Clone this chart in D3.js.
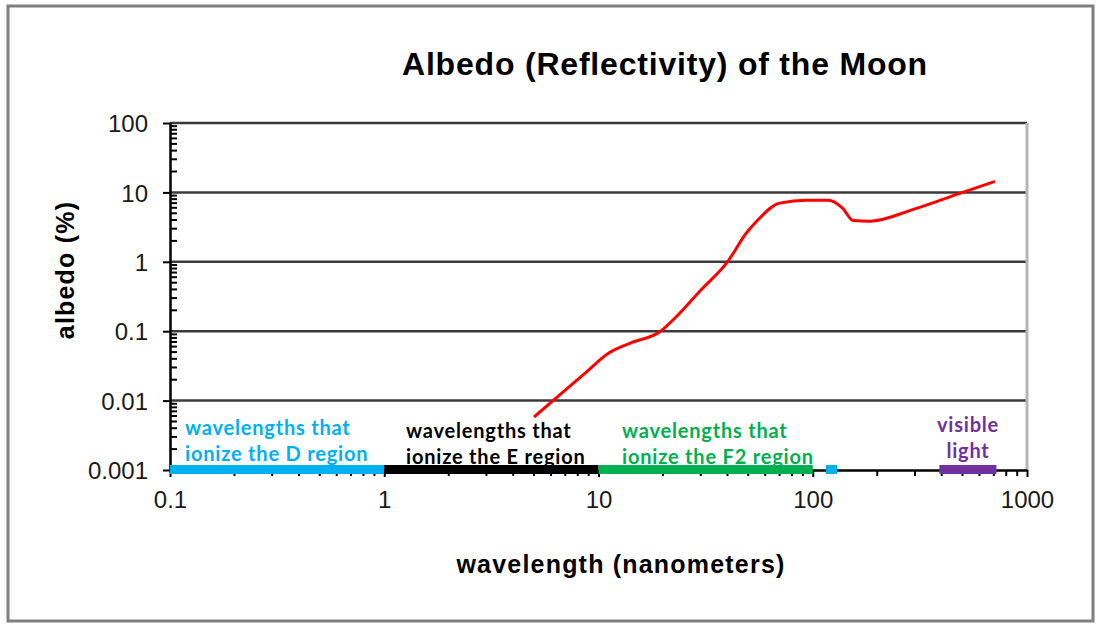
<!DOCTYPE html>
<html>
<head>
<meta charset="utf-8">
<script src="https://cdn.jsdelivr.net/npm/d3@7"></script>
<style>
  body { margin: 0; background: #fff; }
  text { font-family: "Liberation Sans", Arial, sans-serif; }
  .band-label { font-family: Lato, "Open Sans", sans-serif; font-weight: bold; }
</style>
</head>
<body>
<div id="chart"></div>
<script>
// data
var wavelength = [5, 6, 8.8, 11, 14, 19.5, 23, 30, 40, 49, 55, 70, 94, 118, 138, 154, 185, 300, 486, 709];
var albedo = [0.0058, 0.0094, 0.026, 0.047, 0.067, 0.1, 0.16, 0.39, 1, 2.6, 3.9, 7, 7.7, 7.7, 5.9, 3.95, 3.85, 5.8, 9.7, 14.4];

var xTicks = [0.1, 1, 10, 100, 1000];
var yTicks = [0.001, 0.01, 0.1, 1, 10, 100];

var bandStart = [0.1, 1, 10, 115, 390];
var bandEnd = [1, 10, 100, 130, 720];
var bandColors = ["#00b0f0", "#000000", "#00b050", "#00b0f0", "#7030a0"];
var bandLine1 = ["wavelengths that", "wavelengths that", "wavelengths that", "", "visible"];
var bandLine2 = ["ionize the D region", "ionize the E region", "ionize the F2 region", "", "light"];

var W = 1096, H = 624;
var margin = {top: 123, right: 1027, bottom: 470, left: 170};

var svg = d3.select("#chart").append("svg")
    .attr("width", W)
    .attr("height", H);

// outer frame
svg.append("rect")
    .attr("x", 8).attr("y", 6)
    .attr("width", 1085).attr("height", 615)
    .attr("fill", "#fff")
    .attr("stroke", "#7f7f7f")
    .attr("stroke-width", 3);

var x = d3.scaleLog().domain([0.1, 1000]).range([margin.left, margin.right]);
var y = d3.scaleLog().domain([0.001, 100]).range([margin.bottom, margin.top]);

// minor tick values, 2..9 in every decade
function minors(lo, hi) {
    var out = [];
    for (var d = lo; d < hi * 0.99; d *= 10) {
        for (var k = 2; k <= 9; k++) out.push(d * k);
    }
    return out;
}

// gridlines
svg.append("g").selectAll("line")
    .data(yTicks.slice(1))
    .enter().append("line")
    .attr("x1", margin.left).attr("x2", margin.right)
    .attr("y1", function (d) { return y(d); })
    .attr("y2", function (d) { return y(d); })
    .attr("stroke", "#3a3a3a")
    .attr("stroke-width", 2.5);

// right border of plot
svg.append("line")
    .attr("x1", margin.right).attr("x2", margin.right)
    .attr("y1", margin.top).attr("y2", margin.bottom)
    .attr("stroke", "#b5b5b5")
    .attr("stroke-width", 3);

// y axis
var yAxis = d3.axisLeft(y)
    .tickValues(yTicks)
    .tickSize(7)
    .tickSizeOuter(0)
    .tickFormat(function (d) { return d3.format("~g")(d); });

var gy = svg.append("g")
    .attr("transform", "translate(" + margin.left + ",0)")
    .call(yAxis);
gy.select(".domain").attr("stroke", "#000").attr("stroke-width", 2.5);
gy.selectAll(".tick line").attr("stroke", "#000").attr("stroke-width", 2);
gy.selectAll(".tick text")
    .attr("x", -22)
    .attr("dy", "0.36em")
    .style("font-size", "24px")
    .attr("fill", "#1a1a1a");

svg.append("g").selectAll("line")
    .data(minors(0.001, 100))
    .enter().append("line")
    .attr("x1", margin.left).attr("x2", margin.left + 7)
    .attr("y1", function (d) { return y(d); })
    .attr("y2", function (d) { return y(d); })
    .attr("stroke", "#000")
    .attr("stroke-width", 2);

// x axis
var xAxis = d3.axisBottom(x)
    .tickValues(xTicks)
    .tickSize(7)
    .tickSizeOuter(0)
    .tickFormat(function (d) { return d3.format("~g")(d); });

var gx = svg.append("g")
    .attr("transform", "translate(0," + margin.bottom + ")")
    .call(xAxis);
gx.select(".domain").attr("stroke", "#000").attr("stroke-width", 2.5);
gx.selectAll(".tick line").attr("stroke", "#000").attr("stroke-width", 2);
gx.selectAll(".tick text")
    .attr("y", 21)
    .style("font-size", "24px")
    .attr("fill", "#1a1a1a");

svg.append("g").selectAll("line")
    .data(minors(0.1, 1000))
    .enter().append("line")
    .attr("x1", function (d) { return x(d); })
    .attr("x2", function (d) { return x(d); })
    .attr("y1", margin.bottom).attr("y2", margin.bottom + 6)
    .attr("stroke", "#000")
    .attr("stroke-width", 2);

// coloured wavelength bands on the x axis
svg.append("g").selectAll("rect")
    .data(bandStart)
    .enter().append("rect")
    .attr("x", function (d) { return x(d); })
    .attr("width", function (d, i) { return x(bandEnd[i]) - x(d); })
    .attr("y", margin.bottom - 5)
    .attr("height", 9)
    .attr("fill", function (d, i) { return bandColors[i]; });

// band labels
var labelX = [185, 406, 622, 0, 968];
var labelY1 = [435, 438, 438, 0, 432];

bandLine1.forEach(function (t, i) {
    if (t === "") return;
    var anchor = i === 4 ? "middle" : "start";
    var g = svg.append("g").attr("class", "band");
    g.append("text")
        .attr("class", "band-label")
        .attr("x", labelX[i])
        .attr("y", labelY1[i])
        .attr("text-anchor", anchor)
        .style("font-size", "20px")
        .style("letter-spacing", "0.8px")
        .attr("fill", bandColors[i])
        .text(t);
    g.append("text")
        .attr("class", "band-label")
        .attr("x", labelX[i])
        .attr("y", labelY1[i] + 26)
        .attr("text-anchor", anchor)
        .style("font-size", "20px")
        .style("letter-spacing", "0.8px")
        .attr("fill", bandColors[i])
        .text(bandLine2[i]);
});

// albedo curve
var line = d3.line()
    .x(function (d) { return x(d[0]); })
    .y(function (d) { return y(d[1]); })
    .curve(d3.curveMonotoneX);

svg.append("path")
    .datum(d3.zip(wavelength, albedo))
    .attr("d", line)
    .attr("fill", "none")
    .attr("stroke", "#ff0000")
    .attr("stroke-width", 3);

// titles
svg.append("text")
    .attr("x", 665).attr("y", 75)
    .attr("text-anchor", "middle")
    .style("font-size", "32px")
    .style("font-weight", "bold")
    .style("letter-spacing", "0.8px")
    .text("Albedo (Reflectivity) of the Moon");

svg.append("text")
    .attr("x", 621).attr("y", 573)
    .attr("text-anchor", "middle")
    .style("font-size", "25px")
    .style("font-weight", "bold")
    .style("letter-spacing", "1.2px")
    .text("wavelength (nanometers)");

svg.append("text")
    .attr("transform", "translate(74,270) rotate(-90)")
    .attr("text-anchor", "middle")
    .style("font-size", "25px")
    .style("font-weight", "bold")
    .style("letter-spacing", "1.2px")
    .text("albedo (%)");
</script>
</body>
</html>
